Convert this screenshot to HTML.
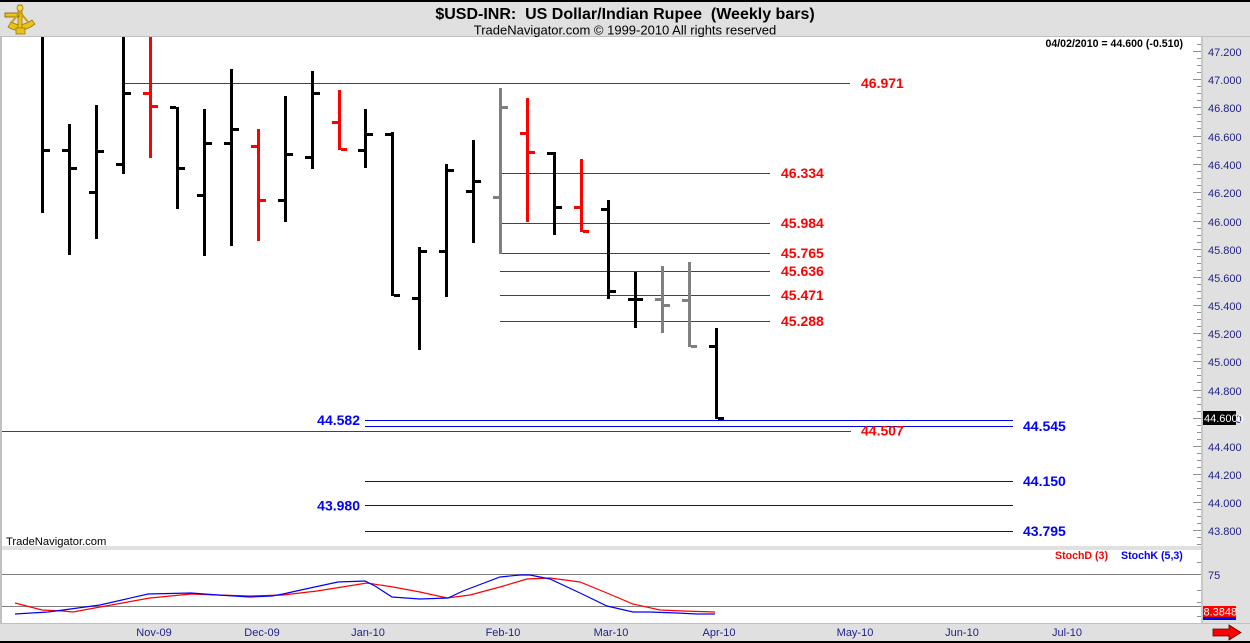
<!DOCTYPE html>
<html><head><meta charset="utf-8">
<style>
html,body{margin:0;padding:0;background:#e0e0e0;}
svg{display:block;}
text{font-family:"Liberation Sans",Arial,sans-serif;white-space:pre;}
</style></head>
<body>
<svg width="1250" height="643" viewBox="0 0 1250 643" xmlns="http://www.w3.org/2000/svg" shape-rendering="crispEdges">
<!-- backgrounds -->
<rect x="0" y="0" width="1250" height="643" fill="#e0e0e0"/>
<rect x="0" y="0" width="1250" height="2" fill="#000"/>
<rect x="0" y="36" width="1250" height="1" fill="#c0c0c0"/>
<rect x="0" y="37" width="2" height="586" fill="#c0c0c0"/>
<rect x="2" y="37" width="1199" height="509" fill="#fff"/>
<rect x="2" y="550" width="1199" height="73" fill="#fff"/>
<rect x="1201" y="37" width="2" height="586" fill="#c8c8c8"/>
<rect x="0" y="623" width="1250" height="1" fill="#c0c0c0"/>
<rect x="0" y="641" width="1250" height="2" fill="#000"/>

<!-- logo -->
<g shape-rendering="geometricPrecision">
<path d="M8 27 Q21 35 35 24 L32 20 Q21 28 11 22 Z" fill="#e8c21e" stroke="#a07c00" stroke-width="0.8"/>
<rect x="18" y="5" width="4" height="26" fill="#e8c21e" stroke="#a07c00" stroke-width="0.8"/>
<rect x="5" y="13" width="14" height="4" fill="#e8c21e" stroke="#806000" stroke-width="0.8"/>
<circle cx="20" cy="8" r="3" fill="#f5d84a" stroke="#a07c00" stroke-width="0.8"/>
<path d="M12 22 L20 12 L28 22" fill="none" stroke="#c9a010" stroke-width="2"/>
<rect x="16" y="28" width="9" height="6" fill="#e8c21e" stroke="#a07c00" stroke-width="0.8"/>
</g>

<!-- title -->
<text x="625" y="19" font-size="16" font-weight="bold" text-anchor="middle" fill="#000">$USD-INR:  US Dollar/Indian Rupee  (Weekly bars)</text>
<text x="625" y="34.5" font-size="13" text-anchor="middle" fill="#000">TradeNavigator.com © 1999-2010 All rights reserved</text>

<text x="1183" y="47" font-size="10.6" font-weight="bold" text-anchor="end" fill="#000">04/02/2010 = 44.600 (-0.510)</text>

<!-- horizontal level lines -->
<g>
<rect x="123" y="83" width="727" height="1" fill="#e00000"/>
<rect x="500" y="173" width="270" height="1" fill="#e00000"/>
<rect x="500" y="223" width="270" height="1" fill="#e00000"/>
<rect x="500" y="253" width="270" height="1" fill="#e00000"/>
<rect x="500" y="271" width="270" height="1" fill="#e00000"/>
<rect x="500" y="295" width="270" height="1" fill="#e00000"/>
<rect x="500" y="321" width="270" height="1" fill="#e00000"/>
<rect x="2" y="431" width="849" height="1" fill="#e00000"/>
<rect x="365" y="420" width="648" height="1" fill="#0000ee"/>
<rect x="365" y="426" width="648" height="1" fill="#0000ee"/>
<rect x="365" y="481" width="648" height="1" fill="#0000ee"/>
<rect x="365" y="505" width="648" height="1" fill="#0000ee"/>
<rect x="365" y="531" width="648" height="1" fill="#0000ee"/>
</g>

<!-- level labels -->
<g font-size="14" font-weight="bold">
<text x="861" y="88" fill="#ff0000">46.971</text>
<text x="781" y="178" fill="#ff0000">46.334</text>
<text x="781" y="228" fill="#ff0000">45.984</text>
<text x="781" y="258" fill="#ff0000">45.765</text>
<text x="781" y="276" fill="#ff0000">45.636</text>
<text x="781" y="300" fill="#ff0000">45.471</text>
<text x="781" y="326" fill="#ff0000">45.288</text>
<text x="861" y="435.5" fill="#ff0000">44.507</text>
<text x="1023" y="431" fill="#0000ff">44.545</text>
<text x="1023" y="486" fill="#0000ff">44.150</text>
<text x="1023" y="536" fill="#0000ff">43.795</text>
<text x="360" y="425" fill="#0000ff" text-anchor="end">44.582</text>
<text x="360" y="510.5" fill="#0000ff" text-anchor="end">43.980</text>
</g>

<!-- bars -->
<g id="bars">
<!-- black -->
<g fill="#000">
<rect x="41" y="37" width="3" height="176"/><rect x="44" y="149" width="6" height="3"/>
<rect x="68" y="124" width="3" height="131"/><rect x="62" y="149" width="6" height="3"/><rect x="71" y="167" width="6" height="3"/>
<rect x="95" y="105" width="3" height="134"/><rect x="89" y="191" width="6" height="3"/><rect x="98" y="150" width="6" height="3"/>
<rect x="122" y="37" width="3" height="137"/><rect x="116" y="163" width="6" height="3"/><rect x="125" y="92" width="6" height="3"/>
<rect x="176" y="107" width="3" height="102"/><rect x="170" y="106" width="6" height="3"/><rect x="179" y="167" width="6" height="3"/>
<rect x="203" y="109" width="3" height="147"/><rect x="197" y="194" width="6" height="3"/><rect x="206" y="142" width="6" height="3"/>
<rect x="230" y="69" width="3" height="177"/><rect x="224" y="142" width="6" height="3"/><rect x="233" y="128" width="6" height="3"/>
<rect x="284" y="96" width="3" height="126"/><rect x="278" y="199" width="6" height="3"/><rect x="287" y="153" width="6" height="3"/>
<rect x="311" y="71" width="3" height="98"/><rect x="305" y="156" width="6" height="3"/><rect x="314" y="92" width="6" height="3"/>
<rect x="364" y="109" width="3" height="59"/><rect x="358" y="149" width="6" height="3"/><rect x="367" y="133" width="6" height="3"/>
<rect x="391" y="132" width="3" height="164"/><rect x="385" y="133" width="6" height="3"/><rect x="394" y="294" width="6" height="3"/>
<rect x="418" y="247" width="3" height="103"/><rect x="412" y="297" width="6" height="3"/><rect x="421" y="250" width="6" height="3"/>
<rect x="445" y="164" width="3" height="133"/><rect x="439" y="250" width="6" height="3"/><rect x="448" y="169" width="6" height="3"/>
<rect x="472" y="140" width="3" height="103"/><rect x="466" y="190" width="6" height="3"/><rect x="475" y="180" width="6" height="3"/>
<rect x="553" y="152" width="3" height="83"/><rect x="547" y="152" width="6" height="3"/><rect x="556" y="206" width="6" height="3"/>
<rect x="607" y="200" width="3" height="99"/><rect x="601" y="208" width="6" height="3"/><rect x="610" y="290" width="6" height="3"/>
<rect x="634" y="272" width="3" height="56"/><rect x="628" y="298" width="6" height="3"/><rect x="637" y="298" width="6" height="3"/>
<rect x="715" y="328" width="3" height="91"/><rect x="709" y="345" width="6" height="3"/><rect x="718" y="417" width="6" height="3"/>
</g>
<!-- red -->
<g fill="#ff0000">
<rect x="149" y="37" width="3" height="121"/><rect x="143" y="92" width="6" height="3"/><rect x="152" y="105" width="6" height="3"/>
<rect x="257" y="129" width="3" height="112"/><rect x="251" y="145" width="6" height="3"/><rect x="260" y="199" width="6" height="3"/>
<rect x="338" y="90" width="3" height="60"/><rect x="332" y="121" width="6" height="3"/><rect x="341" y="148" width="6" height="3"/>
<rect x="526" y="98" width="3" height="124"/><rect x="520" y="132" width="6" height="3"/><rect x="529" y="151" width="6" height="3"/>
<rect x="580" y="159" width="3" height="73"/><rect x="574" y="206" width="6" height="3"/><rect x="583" y="230" width="6" height="3"/>
</g>
<!-- gray -->
<g fill="#808080">
<rect x="499" y="88" width="3" height="166"/><rect x="493" y="196" width="6" height="3"/><rect x="502" y="106" width="6" height="3"/>
<rect x="661" y="266" width="3" height="67"/><rect x="655" y="298" width="6" height="3"/><rect x="664" y="304" width="6" height="3"/>
<rect x="688" y="262" width="3" height="85"/><rect x="682" y="299" width="6" height="3"/><rect x="691" y="345" width="6" height="3"/>
</g>
</g>

<!-- right axis ticks main -->
<g stroke="#909090" stroke-width="1">
<path d="M1193 51.5H1201 M1193 79.5H1201 M1193 107.5H1201 M1193 136.5H1201 M1193 164.5H1201 M1193 192.5H1201 M1193 221.5H1201 M1193 249.5H1201 M1193 277.5H1201 M1193 305.5H1201 M1193 333.5H1201 M1193 361.5H1201 M1193 390.5H1201 M1193 418.5H1201 M1193 446.5H1201 M1193 474.5H1201 M1193 502.5H1201 M1193 530.5H1201"/>
<path d="M1197 44.5H1201 M1197 58.5H1201 M1197 65.5H1201 M1197 72.5H1201 M1197 86.5H1201 M1197 93.5H1201 M1197 100.5H1201 M1197 114.5H1201 M1197 121.5H1201 M1197 128.5H1201 M1197 143.5H1201 M1197 150.5H1201 M1197 157.5H1201 M1197 171.5H1201 M1197 178.5H1201 M1197 185.5H1201 M1197 199.5H1201 M1197 206.5H1201 M1197 213.5H1201 M1197 228.5H1201 M1197 235.5H1201 M1197 242.5H1201 M1197 256.5H1201 M1197 263.5H1201 M1197 270.5H1201 M1197 284.5H1201 M1197 291.5H1201 M1197 298.5H1201 M1197 312.5H1201 M1197 319.5H1201 M1197 326.5H1201 M1197 340.5H1201 M1197 347.5H1201 M1197 354.5H1201 M1197 368.5H1201 M1197 375.5H1201 M1197 382.5H1201 M1197 397.5H1201 M1197 404.5H1201 M1197 411.5H1201 M1197 425.5H1201 M1197 432.5H1201 M1197 439.5H1201 M1197 453.5H1201 M1197 460.5H1201 M1197 467.5H1201 M1197 481.5H1201 M1197 488.5H1201 M1197 495.5H1201 M1197 509.5H1201 M1197 516.5H1201 M1197 523.5H1201 M1197 537.5H1201 M1197 544.5H1201"/>
<path d="M1197 562.5H1201 M1193 574.5H1201 M1197 590.5H1201 M1197 602.5H1201 M1197 616.5H1201"/>
</g>

<!-- axis labels -->
<g font-size="11" fill="#22228a">
<text x="1208" y="56">47.200</text>
<text x="1208" y="84">47.000</text>
<text x="1208" y="112">46.800</text>
<text x="1208" y="141">46.600</text>
<text x="1208" y="169">46.400</text>
<text x="1208" y="197">46.200</text>
<text x="1208" y="226">46.000</text>
<text x="1208" y="254">45.800</text>
<text x="1208" y="282">45.600</text>
<text x="1208" y="310">45.400</text>
<text x="1208" y="338">45.200</text>
<text x="1208" y="366">45.000</text>
<text x="1208" y="395">44.800</text>
<text x="1208" y="423">44.600</text>
<text x="1208" y="451">44.400</text>
<text x="1208" y="479">44.200</text>
<text x="1208" y="507">44.000</text>
<text x="1208" y="535">43.800</text>
<text x="1208" y="579">75</text>
</g>
<rect x="1203" y="411" width="33" height="14" fill="#000"/>
<text x="1204" y="422" font-size="11" fill="#fff">44.6000</text>

<!-- separator band -->
<rect x="2" y="546" width="1199" height="4" fill="#e0e0e0"/>
<text x="6" y="545" font-size="11.2" fill="#000">TradeNavigator.com</text>

<!-- stoch panel -->
<rect x="2" y="574" width="1199" height="1" fill="#808080"/>
<rect x="2" y="606" width="1199" height="1" fill="#808080"/>
<text x="1055" y="559" font-size="10.6" font-weight="bold" fill="#ff0000">StochD (3)</text>
<text x="1121" y="559" font-size="10.6" font-weight="bold" fill="#0000ff">StochK (5,3)</text>
<g fill="none" stroke-width="1.2" shape-rendering="geometricPrecision">
<polyline stroke="#ff0000" points="15,603 42,610 63,611 73,612 100,607 150,598 191,594 218,595 250,596 283,595 317,591 367,583 393,587 420,592 447,598 470,595 500,587 527,579 550,578 580,582 607,593 633,604 660,610 683,611 715,612"/>
<polyline stroke="#0000ff" points="15,614 48,612 63,610 100,605 148,594 191,593 218,595 250,597 272,596 283,594 310,588 338,582 365,581 375,586 392,597 420,599 448,598 463,591 500,577 520,575 530,575 550,579 580,593 607,606 633,612 650,612 677,613 697,614 715,614"/>
</g>
<rect x="1203" y="606" width="33" height="11" fill="#ff0000"/>
<rect x="1203" y="617" width="33" height="3" fill="#0000ff"/>
<text x="1203.5" y="615.5" font-size="11" fill="#fff">8.3848</text>

<!-- date axis -->
<g font-size="11" fill="#22228a" text-anchor="middle">
<text x="154" y="636">Nov-09</text>
<text x="262" y="636">Dec-09</text>
<text x="368" y="636">Jan-10</text>
<text x="503" y="636">Feb-10</text>
<text x="611" y="636">Mar-10</text>
<text x="719" y="636">Apr-10</text>
<text x="855" y="636">May-10</text>
<text x="962" y="636">Jun-10</text>
<text x="1067" y="636">Jul-10</text>
</g>
<!-- arrow -->
<path d="M1213 629 H1229 V625 L1241 632.5 L1229 640 V636 H1213 Z" fill="#ff0000" stroke="#600000" stroke-width="0.8" shape-rendering="geometricPrecision"/>
</svg>
</body></html>
